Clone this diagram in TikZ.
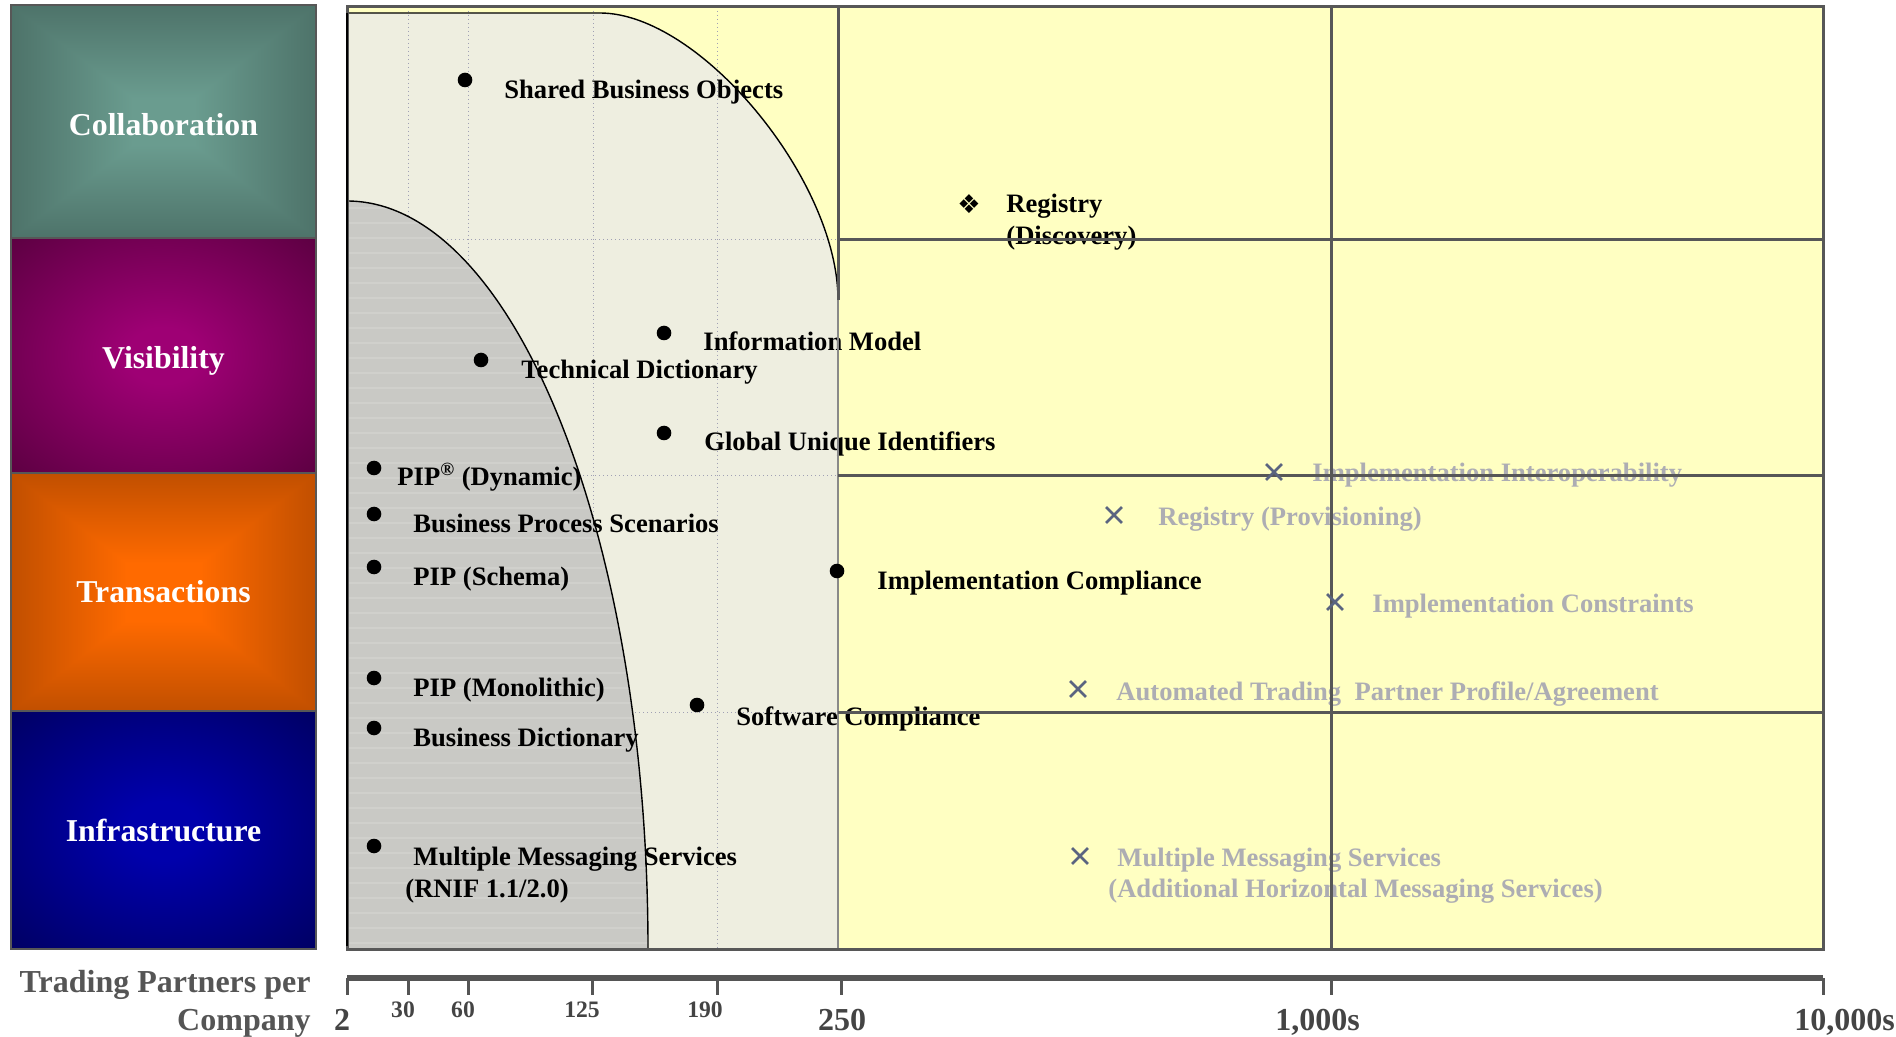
\documentclass[tikz,border=0pt]{standalone}
\usepackage{fontspec}
\setmainfont{Liberation Serif}
\newfontfamily\djv{DejaVu Sans}
\usetikzlibrary{shapes.misc}

\definecolor{bgyellow}{HTML}{FFFFC2}
\definecolor{lightreg}{HTML}{EEEEE0}
\definecolor{darkreg}{HTML}{C9C9C5}
\definecolor{darkstripe}{HTML}{D0D0CC}
\definecolor{gridc}{HTML}{575757}
\definecolor{dotc}{HTML}{A0A0B4}
\definecolor{greytxt}{HTML}{ADADB3}
\definecolor{xmark}{HTML}{5A6480}
\definecolor{axisc}{HTML}{555555}
\definecolor{ticktxt}{HTML}{444444}
\definecolor{collabIn}{HTML}{6A9C8F}
\definecolor{collabOut}{HTML}{2C423D}
\definecolor{visIn}{HTML}{9E0074}
\definecolor{visOut}{HTML}{40002C}
\definecolor{transIn}{HTML}{FF6A00}
\definecolor{transOut}{HTML}{742E00}
\definecolor{infIn}{HTML}{0000AC}
\definecolor{infOut}{HTML}{000044}

\pgfdeclareverticalshading{collabV}{100bp}{color(0bp)=(collabOut); color(10bp)=(collabOut!80!collabIn); color(45bp)=(collabIn); color(55bp)=(collabIn); color(90bp)=(collabOut!80!collabIn); color(100bp)=(collabOut)}
\pgfdeclarehorizontalshading{collabH}{100bp}{color(0bp)=(collabOut); color(10bp)=(collabOut!80!collabIn); color(45bp)=(collabIn); color(55bp)=(collabIn); color(90bp)=(collabOut!80!collabIn); color(100bp)=(collabOut)}
\pgfdeclareverticalshading{transV}{100bp}{color(0bp)=(transOut); color(10bp)=(transOut!80!transIn); color(44bp)=(transIn); color(56bp)=(transIn); color(90bp)=(transOut!80!transIn); color(100bp)=(transOut)}
\pgfdeclarehorizontalshading{transH}{100bp}{color(0bp)=(transOut); color(10bp)=(transOut!80!transIn); color(44bp)=(transIn); color(56bp)=(transIn); color(90bp)=(transOut!80!transIn); color(100bp)=(transOut)}
\pgfdeclareradialshading{visR}{\pgfpoint{0bp}{0bp}}{color(0bp)=(visIn); color(6bp)=(visIn); color(42bp)=(visOut!85!visIn); color(50bp)=(visOut)}
\pgfdeclareradialshading{infR}{\pgfpoint{0bp}{0bp}}{color(0bp)=(infIn); color(6bp)=(infIn); color(42bp)=(infOut!85!infIn); color(50bp)=(infOut)}

% rectangular ("from centre") gradient: horizontal shading everywhere,
% vertical shading in the top and bottom triangles
\newcommand\mygradbox[6]{%
 \pgfmathsetmacro\gmx{(#1+#3)/2}\pgfmathsetmacro\gmy{(#2+#4)/2}%
 \shade[shading=#6] (#1,#2) rectangle (#3,#4);
 \begin{scope}
  \clip (#1,#2) -- (#3,#2) -- (\gmx,\gmy) -- cycle (#1,#4) -- (#3,#4) -- (\gmx,\gmy) -- cycle;
  \shade[shading=#5] (#1,#2) rectangle (#3,#4);
 \end{scope}
}

\tikzset{
  rowlbl/.style={anchor=base, inner sep=0pt, text=white, font=\fontsize{15.9}{18}\selectfont\bfseries},
  lbl/.style={anchor=base west, inner sep=0pt, text=black, font=\fontsize{13.3}{16}\selectfont\bfseries},
  glbl/.style={lbl, text=greytxt},
  dotm/.style={circle, fill=black, inner sep=0pt, minimum size=7.3pt},
  xm/.style={cross out, draw=xmark, line width=1.4pt, inner sep=0pt, minimum size=6.5pt},
  gridl/.style={draw=gridc, line width=1.5pt},
  dotl/.style={draw=dotc, line width=0.5pt, dash pattern=on 0.7pt off 1.3pt},
  outl/.style={draw=black, line width=0.7pt},
  boxb/.style={draw=gridc, line width=1.3pt},
  bigtick/.style={anchor=base, inner sep=0pt, text=ticktxt, font=\fontsize{16}{18}\selectfont\bfseries},
  smalltick/.style={anchor=base, inner sep=0pt, text=ticktxt, font=\fontsize{11.8}{14}\selectfont\bfseries},
  axlbl/.style={anchor=base east, inner sep=0pt, text=axisc, font=\fontsize{16}{18}\selectfont\bfseries},
  tickl/.style={draw=axisc, line width=1.5pt},
}

\begin{document}
\begin{tikzpicture}[x=0.5pt,y=0.5pt]
\useasboundingbox (0,0) rectangle (1896,-1037);
\fill[white] (0,0) rectangle (1896,-1037);

% ---- left category boxes
\mygradbox{11}{-5}{316}{-238}{collabV}{collabH}
\shade[shading=visR] (11,-238) rectangle (316,-473);
\mygradbox{11}{-473}{316}{-711}{transV}{transH}
\shade[shading=infR] (11,-711) rectangle (316,-949);
\draw[boxb] (11,-5) rectangle (316,-238);
\draw[boxb] (11,-238) rectangle (316,-473);
\draw[boxb] (11,-473) rectangle (316,-711);
\draw[boxb] (11,-711) rectangle (316,-949);
\node[rowlbl] (rc) at (163.5,-136) {Collaboration};
\node[rowlbl] (rv) at (163.5,-369) {Visibility};
\node[rowlbl] (rt) at (163.5,-603) {Transactions};
\node[rowlbl] (ri) at (163.5,-841) {Infrastructure};

% ---- chart background
\fill[bgyellow] (347,-7) rectangle (1823,-949);
\fill[lightreg] (347,-13) -- (600,-13) .. controls (700,-13) and (838,-180) .. (838,-300) -- (838,-949) -- (347,-949) -- cycle;

% dotted guide lines
\draw[dotl] (347,-240) -- (838,-240);
\draw[dotl] (347,-476) -- (838,-476);
\draw[dotl] (347,-712) -- (838,-712);
\foreach \xx in {408,468,593,717} \draw[dotl] (\xx,-7) -- (\xx,-949);

% dark region
\fill[darkreg] (347,-949) -- (347,-201) arc[start angle=90, end angle=0, x radius=301, y radius=748] -- cycle;
\begin{scope}
\clip (347,-949) -- (347,-201) arc[start angle=90, end angle=0, x radius=301, y radius=748] -- cycle;
\foreach \yy in {208,223,...,949} \draw[darkstripe, line width=0.8pt] (347,-\yy) -- (660,-\yy);
\end{scope}
\draw[outl] (347,-201) arc[start angle=90, end angle=0, x radius=301, y radius=748];
\draw[outl] (347,-13) -- (600,-13) .. controls (700,-13) and (838,-180) .. (838,-300);
\draw[outl] (347,-13) -- (347,-949);

% ---- black items
\node[lbl] (t1) at (504,-99) {Shared Business Objects};
\node[lbl] (t2) at (703,-351) {Information Model};
\node[lbl] (t3) at (521,-379) {Technical Dictionary};
\node[lbl] (t4) at (704,-451) {Global Unique Identifiers};
\node[lbl] (t5) at (397,-486) {PIP\textsuperscript{®} (Dynamic)};
\node[lbl] (t6) at (413,-532) {Business Process Scenarios};
\node[lbl] (t7) at (413,-585) {PIP (Schema)};
\node[lbl] (t8) at (413,-696) {PIP (Monolithic)};
\node[lbl] (t9) at (413,-746) {Business Dictionary};
\node[lbl] (t10a) at (413,-865) {Multiple Messaging Services};
\node[lbl] (t10b) at (405,-897) {(RNIF 1.1/2.0)};
\node[lbl] (t11) at (736,-725) {Software Compliance};
\node[lbl] (t12) at (877,-589) {Implementation Compliance};
\node[lbl] (t13a) at (1006,-213) {Registry};
\node[lbl] (t13b) at (1006,-245) {(Discovery)};

% ---- grey items
\node[glbl] (g1) at (1312,-482) {Implementation Interoperability};
\node[glbl] (g2) at (1158,-525) {Registry (Provisioning)};
\node[glbl] (g3) at (1372,-612) {Implementation Constraints};
\node[glbl] (g4) at (1116,-700) {Automated Trading~ Partner Profile/Agreement};
\node[glbl] (g5a) at (1117,-866) {Multiple Messaging Services};
\node[glbl] (g5b) at (1108,-897) {(Additional Horizontal Messaging Services)};

% ---- grid
\draw[gridl] (838,-7) -- (838,-300);
\draw[draw=gridc!70, line width=0.8pt] (838,-300) -- (838,-949);
\draw[gridl] (1331,-7) -- (1331,-949);
\draw[gridl] (838,-240) -- (1823,-240);
\draw[gridl] (838,-476) -- (1823,-476);
\draw[gridl] (838,-712) -- (1823,-712);
\draw[gridl] (347,-7) rectangle (1823,-949);
\draw[outl] (347,-13) -- (347,-946);

% ---- markers
\node[dotm] (d1) at (465,-80) {};
\node[dotm] (d2) at (664,-333) {};
\node[dotm] (d3) at (481,-360) {};
\node[dotm] (d4) at (664,-433) {};
\node[dotm] (d5) at (374,-468) {};
\node[dotm] (d6) at (374,-514) {};
\node[dotm] (d7) at (374,-567) {};
\node[dotm] (d8) at (374,-678) {};
\node[dotm] (d9) at (374,-728) {};
\node[dotm] (d10) at (374,-846) {};
\node[dotm] (d11) at (697,-705) {};
\node[dotm] (d12) at (837,-571) {};
\node[inner sep=0pt, font=\djv\fontsize{13}{13}\selectfont] (d13) at (969,-204) {❖};
\node[xm] (x1) at (1274,-472) {};
\node[xm] (x2) at (1114,-515) {};
\node[xm] (x3) at (1335,-602) {};
\node[xm] (x4) at (1078,-689) {};
\node[xm] (x5) at (1080,-856) {};

% ---- axis
\draw[draw=axisc, line width=3pt] (347,-978) -- (1823,-978);
\foreach \xx in {347,408,468,592,717,841,1331,1823} \draw[tickl] (\xx,-978) -- (\xx,-995);
\node[axlbl] (a1) at (311,-992) {Trading Partners per};
\node[axlbl] (a2) at (311,-1030) {Company};
\node[bigtick] (k2) at (342,-1030) {2};
\node[smalltick] (k30) at (403,-1017) {30};
\node[smalltick] (k60) at (463,-1017) {60};
\node[smalltick] (k125) at (582,-1017) {125};
\node[smalltick] (k190) at (705,-1017) {190};
\node[bigtick] (k250) at (842,-1030) {250};
\node[bigtick, anchor=base west] (k1000) at (1275,-1030) {1,000s};
\node[bigtick, anchor=base west] (k10000) at (1794,-1030) {10,000s};
\end{tikzpicture}
\end{document}
